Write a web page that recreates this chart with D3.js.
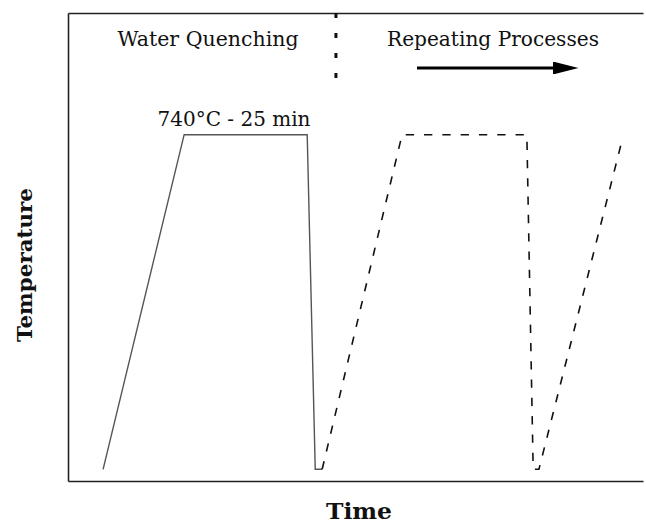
<!DOCTYPE html>
<html>
<head>
<meta charset="utf-8">
<script src="https://cdn.jsdelivr.net/npm/d3@7"></script>
<style>
html,body{margin:0;padding:0;background:#fff;}
svg{display:block;}
</style>
</head>
<body>
<svg id="chart" width="646" height="524"></svg>
<script>
// ---- data (time in arbitrary units 0..100, temperature in °C) ----
const solidTime = [6.1, 20.2, 41.6, 43.0, 44.2];
const solidTemp = [25, 740, 740, 25, 25];
const dashedTime = [44.2, 58.1, 79.8, 80.9, 81.9, 96.5];
const dashedTemp = [25, 740, 740, 25, 25, 735];
const stageLabels = ["Water Quenching", "Repeating Processes"];
const holdLabel = "740°C - 25 min";
const xTitle = "Time";
const yTitle = "Temperature";
const dividerTime = 46.6;

const svg = d3.select("#chart");
const W = 646, H = 524;
const m = {left: 68, right: 3, top: 13, bottom: 43};
const x = d3.scaleLinear().domain([0, 100]).range([m.left, W - m.right]);
const y = d3.scaleLinear().domain([0, 1000]).range([H - m.bottom, m.top]);

const serif = "'DejaVu Serif','Liberation Serif',serif";

// axes frame (left, bottom, top)
svg.append("g").attr("transform", `translate(0,${y(0)})`)
  .call(d3.axisBottom(x).tickValues([]).tickSizeOuter(0))
  .call(g => g.select(".domain").attr("stroke", "#222").attr("stroke-width", 1.6));
svg.append("g").attr("transform", `translate(${x(0)},0)`)
  .call(d3.axisLeft(y).tickValues([]).tickSizeOuter(0))
  .call(g => g.select(".domain").attr("stroke", "#222").attr("stroke-width", 1.6));
svg.append("g").attr("transform", `translate(0,${y(1000)})`)
  .call(d3.axisTop(x).tickValues([]).tickSizeOuter(0))
  .call(g => g.select(".domain").attr("stroke", "#222").attr("stroke-width", 1.4));

const line = d3.line().x(d => x(d[0])).y(d => y(d[1]));

svg.append("path")
  .datum(d3.zip(solidTime, solidTemp))
  .attr("d", line)
  .attr("fill", "none").attr("stroke", "#555").attr("stroke-width", 1.4);

svg.append("path")
  .datum(d3.zip(dashedTime, dashedTemp))
  .attr("d", line)
  .attr("fill", "none").attr("stroke", "#111").attr("stroke-width", 1.6)
  .attr("stroke-dasharray", "8.3,10");

// dotted divider
svg.append("line")
  .attr("x1", x(dividerTime)).attr("x2", x(dividerTime))
  .attr("y1", y(1000)).attr("y2", y(1000) + 66)
  .attr("stroke", "#111").attr("stroke-width", 3)
  .attr("stroke-dasharray", "5,15");

// stage labels
svg.append("text").attr("x", 208).attr("y", 46)
  .attr("text-anchor", "middle").attr("font-family", serif).attr("font-size", 20.5)
  .attr("textLength", 181).attr("lengthAdjust", "spacingAndGlyphs")
  .attr("fill", "#111").text(stageLabels[0]);
svg.append("text").attr("x", 493).attr("y", 46)
  .attr("text-anchor", "middle").attr("font-family", serif).attr("font-size", 20.5)
  .attr("textLength", 212).attr("lengthAdjust", "spacingAndGlyphs")
  .attr("fill", "#111").text(stageLabels[1]);

// hold label
svg.append("text").attr("x", 234).attr("y", 126)
  .attr("text-anchor", "middle").attr("font-family", serif).attr("font-size", 20.5)
  .attr("textLength", 153).attr("lengthAdjust", "spacingAndGlyphs")
  .attr("fill", "#111").text(holdLabel);

// arrow
const defs = svg.append("defs");
defs.append("marker").attr("id", "ah")
  .attr("viewBox", "0 0 10 10").attr("refX", 0).attr("refY", 5)
  .attr("preserveAspectRatio", "none")
  .attr("markerWidth", 8.5).attr("markerHeight", 4.3).attr("markerUnits", "strokeWidth")
  .attr("orient", "auto")
  .append("path").attr("d", "M0,0 L10,5 L0,10 Z").attr("fill", "#000");
svg.append("line")
  .attr("x1", 417).attr("x2", 553).attr("y1", 68).attr("y2", 68)
  .attr("stroke", "#000").attr("stroke-width", 3)
  .attr("marker-end", "url(#ah)");

// axis titles
svg.append("text").attr("x", 359).attr("y", 519)
  .attr("text-anchor", "middle").attr("font-family", serif).attr("font-weight", "bold")
  .attr("font-size", 23).attr("textLength", 66).attr("lengthAdjust", "spacingAndGlyphs")
  .attr("fill", "#111").text(xTitle);
svg.append("text")
  .attr("transform", `translate(32,265) rotate(-90)`)
  .attr("text-anchor", "middle").attr("font-family", serif).attr("font-weight", "bold")
  .attr("font-size", 20.5).attr("textLength", 154).attr("lengthAdjust", "spacingAndGlyphs")
  .attr("fill", "#111").text(yTitle);
</script>
</body>
</html>
